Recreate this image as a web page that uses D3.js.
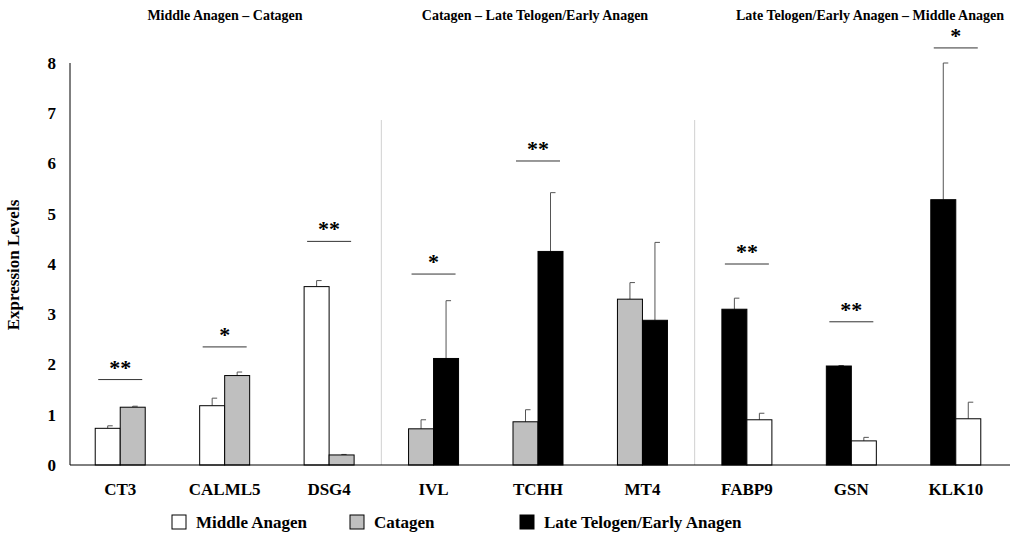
<!DOCTYPE html>
<html>
<head>
<meta charset="utf-8">
<script src="https://cdn.jsdelivr.net/npm/d3@7"></script>
<style>
  body { margin: 0; background: white; }
  text { font-family: "Liberation Serif", "Times New Roman", serif; font-weight: bold; }
</style>
</head>
<body>
<svg id="chart" width="1024" height="539"></svg>
<script>
const genes = ["CT3", "CALML5", "DSG4", "IVL", "TCHH", "MT4", "FABP9", "GSN", "KLK10"];
// each gene has two bars: series, value, top of error bar
const firstSeries = ["mid", "mid", "mid", "cat", "cat", "cat", "late", "late", "late"];
const firstValues = [0.73, 1.18, 3.55, 0.72, 0.86, 3.30, 3.10, 1.97, 5.28];
const firstErrors = [0.78, 1.33, 3.67, 0.90, 1.10, 3.63, 3.32, 1.98, 8.00];
const secondSeries = ["cat", "cat", "cat", "late", "late", "late", "mid", "mid", "mid"];
const secondValues = [1.15, 1.78, 0.20, 2.12, 4.25, 2.88, 0.90, 0.48, 0.92];
const secondErrors = [1.17, 1.85, 0.21, 3.27, 5.42, 4.43, 1.03, 0.55, 1.25];
const sigLabels = ["**", "*", "**", "*", "**", "", "**", "**", "*"];
const sigLevels = [1.7, 2.35, 4.45, 3.8, 6.05, null, 4.0, 2.85, 8.3];
const groupTitles = ["Middle Anagen \u2013 Catagen", "Catagen \u2013 Late Telogen/Early Anagen", "Late Telogen/Early Anagen \u2013 Middle Anagen"];
const seriesKeys = ["mid", "cat", "late"];
const seriesNames = ["Middle Anagen", "Catagen", "Late Telogen/Early Anagen"];
const yTicks = [0, 1, 2, 3, 4, 5, 6, 7, 8];

const fill = { mid: "#ffffff", cat: "#bfbfbf", late: "#000000" };
const svg = d3.select("#chart");
const x = d3.scaleBand().domain(genes).range([68, 1008]);
const y = d3.scaleLinear().domain([0, 8]).range([465, 63]);
const bw = 25;

// separators
[3, 6].forEach(i => {
  svg.append("line").attr("x1", x(genes[i])).attr("x2", x(genes[i]))
    .attr("y1", 120).attr("y2", 465).attr("stroke", "#d0d0d0");
});

// group titles
const titleX = [225, 535, 870];
groupTitles.forEach((t, i) => {
  svg.append("text").attr("x", titleX[i]).attr("y", 20).attr("text-anchor", "middle")
    .attr("font-size", 14).text(t);
});

const bars = [];
genes.forEach((g, i) => {
  const c = x(g) + x.bandwidth() / 2;
  bars.push({ x: c - bw, s: firstSeries[i], v: firstValues[i], e: firstErrors[i] });
  bars.push({ x: c, s: secondSeries[i], v: secondValues[i], e: secondErrors[i] });
});

// error bars
svg.selectAll(".err").data(bars).join("g").attr("class", "err").each(function (d) {
  const g = d3.select(this), cx = d.x + bw / 2;
  g.append("line").attr("x1", cx).attr("x2", cx).attr("y1", y(d.v)).attr("y2", y(d.e)).attr("stroke", "#555");
  g.append("line").attr("x1", cx).attr("x2", cx + 5).attr("y1", y(d.e)).attr("y2", y(d.e)).attr("stroke", "#555");
});

svg.selectAll(".bar").data(bars).join("rect").attr("class", "bar")
  .attr("x", d => d.x).attr("width", bw)
  .attr("y", d => y(d.v)).attr("height", d => y(0) - y(d.v))
  .attr("fill", d => fill[d.s]).attr("stroke", "#000").attr("stroke-width", 1);

// significance
genes.forEach((g, i) => {
  if (sigLevels[i] == null) return;
  const c = x(g) + x.bandwidth() / 2;
  svg.append("line").attr("x1", c - 22).attr("x2", c + 22)
    .attr("y1", y(sigLevels[i])).attr("y2", y(sigLevels[i])).attr("stroke", "#333");
  svg.append("text").attr("x", c).attr("y", y(sigLevels[i]) - 5).attr("text-anchor", "middle")
    .attr("font-size", 22).text(sigLabels[i]);
});

// axes
const yAxis = d3.axisLeft(y).tickValues(yTicks).tickSize(0).tickPadding(14);
svg.append("g").attr("transform", "translate(70,0)").call(yAxis)
  .call(g => g.select(".domain").attr("stroke", "#000").attr("d", "M0,63V465"))
  .call(g => g.selectAll("text").attr("font-size", 17).attr("font-family", "Liberation Serif").attr("font-weight", "bold"));
const xAxis = d3.axisBottom(x).tickSize(0).tickPadding(18);
svg.append("g").attr("transform", "translate(0,465)").call(xAxis)
  .call(g => g.select(".domain").attr("stroke", "#000").attr("d", "M70,0H1010"))
  .call(g => g.selectAll("text").attr("font-size", 17).attr("font-family", "Liberation Serif").attr("font-weight", "bold"));

svg.append("text").attr("transform", "translate(19,265) rotate(-90)").attr("text-anchor", "middle")
  .attr("font-size", 17).text("Expression Levels");

// legend
const legendX = [172, 350, 520];
seriesKeys.forEach((k, i) => {
  svg.append("rect").attr("x", legendX[i]).attr("y", 515).attr("width", 14).attr("height", 14)
    .attr("fill", fill[k]).attr("stroke", "#000");
  svg.append("text").attr("x", legendX[i] + 24).attr("y", 528).attr("font-size", 17).text(seriesNames[i]);
});
</script>
</body>
</html>
